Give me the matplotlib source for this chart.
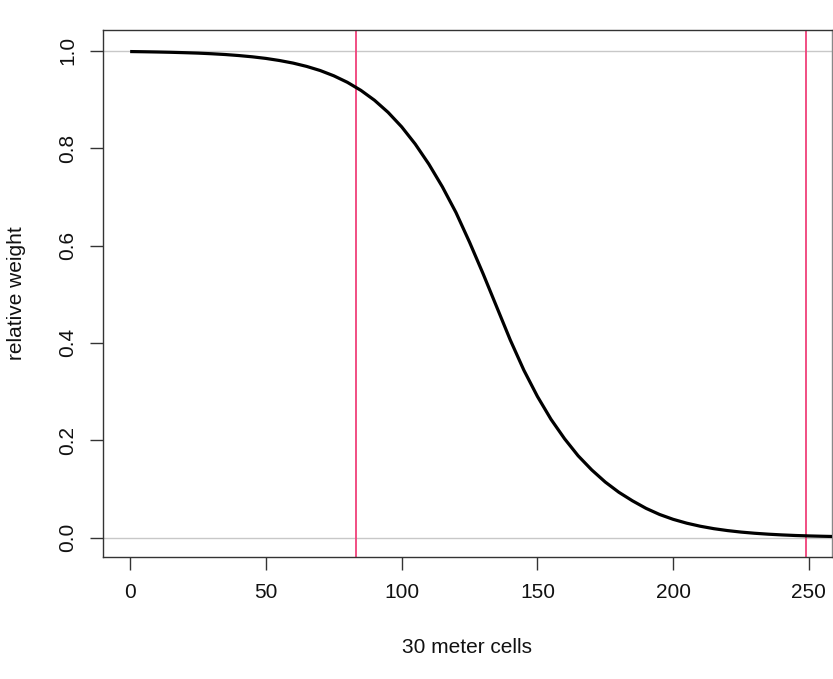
import matplotlib
matplotlib.use("Agg")
import matplotlib.pyplot as plt

plt.rcParams['font.family'] = ['Liberation Sans', 'DejaVu Sans']

# distance in 30 m cells and relative weight
cells = [0, 5, 10, 15, 20, 25, 30, 35, 40, 45, 50, 55, 60, 65, 70, 75, 80, 85,
         90, 95, 100, 105, 110, 115, 120, 125, 130, 135, 140, 145, 150, 155,
         160, 165, 170, 175, 180, 185, 190, 195, 200, 205, 210, 215, 220, 225,
         230, 235, 240, 245, 250, 255, 260]
weight = [0.9987, 0.9983, 0.9978, 0.9972, 0.9964, 0.9955, 0.9942, 0.9926,
          0.9905, 0.9879, 0.9846, 0.9803, 0.9750, 0.9682, 0.9597, 0.9489,
          0.9355, 0.9189, 0.8986, 0.8738, 0.8440, 0.8086, 0.7675, 0.7207,
          0.668, 0.607, 0.542, 0.474, 0.406, 0.344, 0.290, 0.243,
          0.203, 0.168, 0.139, 0.114, 0.093, 0.0755, 0.0600, 0.0474,
          0.0374, 0.0295, 0.0232, 0.0182, 0.0143, 0.0112, 0.0088, 0.0069,
          0.0054, 0.0042, 0.0033, 0.0026, 0.0020]
ref_levels = [0.0, 1.0]
cutoffs = [83, 249]
xticks = [0, 50, 100, 150, 200, 250]
yticks = [0.0, 0.2, 0.4, 0.6, 0.8, 1.0]

W, H = 833, 679
fig = plt.figure(figsize=(W / 100, H / 100), dpi=100)
L, R, T, B = 103, 832, 30, 557
ax = fig.add_axes([L / W, 1 - B / H, (R - L) / W, (B - T) / H])

for lv in ref_levels:
    ax.axhline(lv, color='#c8c8c8', lw=1.0, zorder=1)
for c in cutoffs:
    ax.axvline(c, color='#f0407a', lw=1.3, zorder=2)
ax.plot(cells, weight, color='black', lw=2.3, zorder=3, solid_capstyle='butt')

ax.set_xlim(-10, 258.5)
ax.set_ylim(-0.04, 1.043)
ax.set_xticks(xticks)
ax.set_xticklabels([str(v) for v in xticks])
ax.set_yticks(yticks)
ax.set_yticklabels([f"{v:.1f}" for v in yticks])

for s in ax.spines.values():
    s.set_color('#333333')
    s.set_linewidth(1.0)
ax.spines['right'].set_color('#888888')

ax.tick_params(axis='both', direction='out', length=9.5, width=1.0,
               color='#333333', labelsize=15, labelcolor='#111111')
ax.tick_params(axis='x', pad=9)
ax.tick_params(axis='y', pad=9, labelrotation=90)
for lab in ax.get_yticklabels():
    lab.set_va('center')

ax.set_xlabel('30 meter cells', fontsize=15, color='#111111')
ax.set_ylabel('relative weight', fontsize=15, color='#111111')
ax.xaxis.set_label_coords(0.5, -0.171)
ax.xaxis.label.set_va('center')
ax.yaxis.set_label_coords(-0.118, 0.5)
ax.yaxis.label.set_va('center')

fig.savefig('out.png', dpi=100)
